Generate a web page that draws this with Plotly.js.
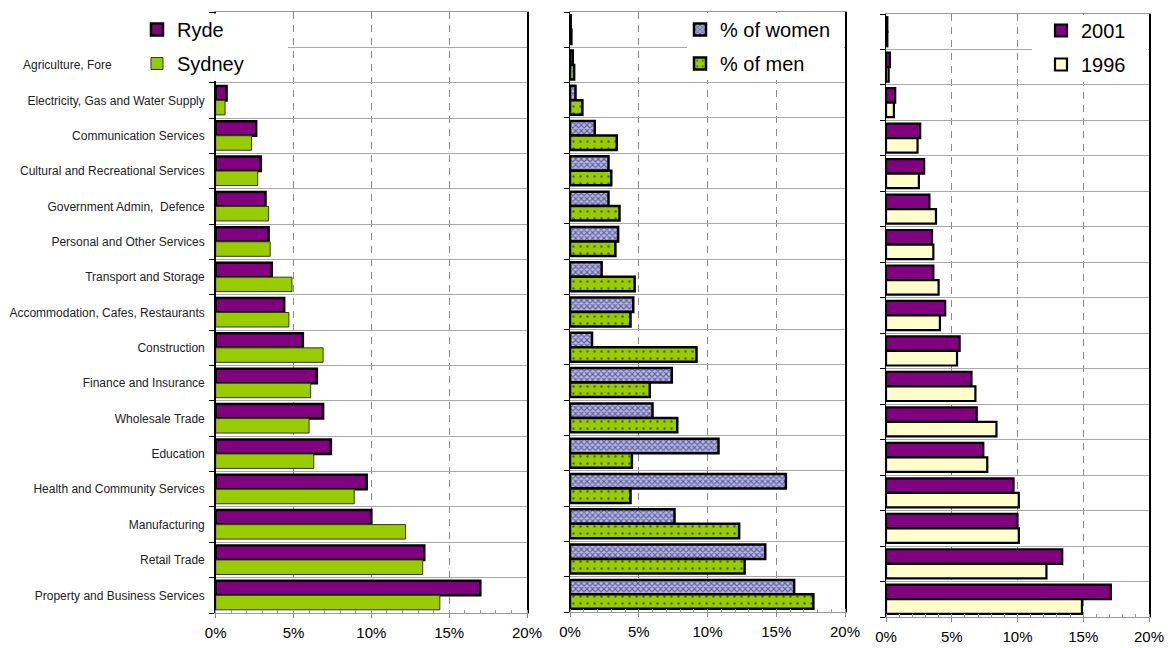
<!DOCTYPE html>
<html>
<head>
<meta charset="utf-8">
<script src="https://cdn.plot.ly/plotly-3.0.1.min.js"></script>
<style>html,body{margin:0;padding:0;background:#fff;}#chart{width:1175px;height:648px;}</style>
</head>
<body>
<div id="chart"></div>
<script>
// Industry categories, top to bottom
const categories = [
  'Mining',
  'Agriculture, Forestry and Fishing',
  'Electricity, Gas and Water Supply',
  'Communication Services',
  'Cultural and Recreational Services',
  'Government Admin,\u00a0 Defence',
  'Personal and Other Services',
  'Transport and Storage',
  'Accommodation, Cafes, Restaurants',
  'Construction',
  'Finance and Insurance',
  'Wholesale Trade',
  'Education',
  'Health and Community Services',
  'Manufacturing',
  'Retail Trade',
  'Property and Business Services'
];
// Tick labels as visible (the top two are hidden / cut by the legend)
const categoryLabels = [
  '',
  '',
  'Electricity, Gas and Water Supply',
  'Communication Services',
  'Cultural and Recreational Services',
  'Government Admin,\u00a0 Defence',
  'Personal and Other Services',
  'Transport and Storage',
  'Accommodation, Cafes, Restaurants',
  'Construction',
  'Finance and Insurance',
  'Wholesale Trade',
  'Education',
  'Health and Community Services',
  'Manufacturing',
  'Retail Trade',
  'Property and Business Services'
];
const cutLabel = 'Agriculture, Fore';
// Panel 1: Ryde vs Sydney (%)
const ryde   = [0.1, 0.3, 0.7, 2.6, 2.9, 3.2, 3.4, 3.6, 4.4, 5.6, 6.5, 6.9, 7.4, 9.7, 10.0, 13.4, 17.0];
const sydney = [0.2, 0.4, 0.6, 2.3, 2.7, 3.4, 3.5, 4.9, 4.7, 6.9, 6.1, 6.0, 6.3, 8.9, 12.2, 13.3, 14.4];
// Panel 2: % of women vs % of men
const women  = [0.05, 0.2, 0.4, 1.8, 2.8, 2.8, 3.5, 2.3, 4.6, 1.6, 7.4, 6.0, 10.8, 15.7, 7.6, 14.2, 16.3];
const men    = [0.1, 0.3, 0.9, 3.4, 3.0, 3.6, 3.3, 4.7, 4.4, 9.2, 5.8, 7.8, 4.5, 4.4, 12.3, 12.7, 17.7];
// Panel 3: 2001 vs 1996
const y2001  = [0.1, 0.3, 0.7, 2.6, 2.9, 3.3, 3.5, 3.6, 4.5, 5.6, 6.5, 6.9, 7.4, 9.7, 10.0, 13.4, 17.1];
const y1996  = [0.1, 0.2, 0.6, 2.4, 2.5, 3.8, 3.6, 4.0, 4.1, 5.4, 6.8, 8.4, 7.7, 10.1, 10.1, 12.2, 14.9];
const xTicks = [0, 5, 10, 15, 20];

const W = 1175, H = 648;
const px = v => v / W;
const py = v => 1 - v / H;

const traces = [
  {type:'bar', orientation:'h', name:'Ryde', x:ryde, y:categories, xaxis:'x', yaxis:'y',
   legend:'legend', legendgroup:'a',
   marker:{color:'#800080', line:{color:'#000', width:2.5}}},
  {type:'bar', orientation:'h', name:'Sydney', x:sydney, y:categories, xaxis:'x', yaxis:'y',
   legend:'legend', legendgroup:'b',
   marker:{color:'#99CC00', line:{color:'#333', width:1}}},
  {type:'bar', orientation:'h', name:'% of women', x:women, y:categories, xaxis:'x2', yaxis:'y2',
   legend:'legend2', legendgroup:'c',
   marker:{color:'#B8B8F4', line:{color:'#000', width:2.5},
     pattern:{shape:'x', fillmode:'overlay', bgcolor:'#B8B8F4', fgcolor:'#10102a', size:4, solidity:0.5}}},
  {type:'bar', orientation:'h', name:'% of men', x:men, y:categories, xaxis:'x2', yaxis:'y2',
   legend:'legend2', legendgroup:'d',
   marker:{color:'#99CC00', line:{color:'#000', width:2.5},
     pattern:{shape:'.', fillmode:'overlay', bgcolor:'#99CC00', fgcolor:'#000', size:7, solidity:0.1}}},
  {type:'bar', orientation:'h', name:'2001', x:y2001, y:categories, xaxis:'x3', yaxis:'y3',
   legend:'legend3', legendgroup:'e',
   marker:{color:'#800080', line:{color:'#000', width:2.2}}},
  {type:'bar', orientation:'h', name:'1996', x:y1996, y:categories, xaxis:'x3', yaxis:'y3',
   legend:'legend3', legendgroup:'f',
   marker:{color:'#FFFFCC', line:{color:'#000', width:2.2}}}
];

const tickFont = {family:'Arial, Liberation Sans, sans-serif', size:15, color:'#000'};
const labelFont = {family:'Arial, Liberation Sans, sans-serif', size:12, color:'#222'};
function xax(domain, anchor, standoff){
  return {
    domain: domain, anchor: anchor, range:[0,20], fixedrange:true,
    tickvals: xTicks, ticktext: xTicks.map(v => v + '%'),
    tickfont: tickFont, ticks:'outside', ticklen:4, tickcolor:'#888',
    ticklabelstandoff: standoff,
    minor:{dtick:1, ticks:'inside', ticklen:3, tickcolor:'#999', showgrid:false},
    showgrid:true, gridcolor:'#8a8a8a', griddash:'7px,6px', gridwidth:1,
    zeroline:false, showline:true, linecolor:'#999', linewidth:1, mirror:true
  };
}
function yax(domain, anchor, showLabels){
  return {
    domain: domain, anchor: anchor, type:'category', autorange:'reversed', fixedrange:true,
    tickmode:'array', tickvals: categories, ticktext: categoryLabels,
    tickson:'boundaries', ticks:'outside', ticklen:5, tickcolor:'#000',
    showticklabels: showLabels,
    tickfont: labelFont,
    ticklabelstandoff: 7,
    showgrid:true, gridcolor:'#a8a8a8', gridwidth:1,
    showline:true, linecolor:'#000', linewidth:1.5, mirror:true, zeroline:false
  };
}

const legFont = {family:'Arial, Liberation Sans, sans-serif', size:20, color:'#000'};
function leg(x, y){
  return {x:x, y:y, xanchor:'left', yanchor:'top', bgcolor:'rgba(0,0,0,0)', borderwidth:0,
    font:legFont, traceorder:'grouped', tracegroupgap:5, itemwidth:30};
}

const cover = (x0, x1, y0, y1) => ({type:'rect', xref:'paper', yref:'paper', layer:'above',
  x0:px(x0), x1:px(x1), y0:py(y1), y1:py(y0), fillcolor:'#fff', line:{width:0}});

const layout = {
  width: W, height: H, margin:{l:0, r:0, t:0, b:0},
  paper_bgcolor:'#fff', plot_bgcolor:'#fff',
  barmode:'group', bargap:0.18, bargroupgap:0,
  xaxis: xax([px(215.7), px(527)], 'y', 2),
  yaxis: yax([py(613), py(12)], 'x', true),
  xaxis2: xax([px(570), px(845)], 'y2', 2),
  yaxis2: yax([py(612), py(12)], 'x2', false),
  xaxis3: xax([px(886), px(1149)], 'y3', 2),
  yaxis3: yax([py(617), py(14)], 'x3', false),
  legend: leg(px(137), py(10)),
  legend2: leg(px(680), py(10)),
  legend3: leg(px(1041), py(11)),
  shapes: [
    cover(115, 288, 13.5, 81),
    cover(687, 844, 13, 80),
    cover(1032, 1148, 15, 82)
  ],
  annotations: [
    {text: cutLabel, xref:'paper', x: px(114), xanchor:'right', yref:'y', y: categories[1],
     yanchor:'middle', showarrow:false, font: labelFont}
  ],
  showlegend:true
};

Plotly.newPlot('chart', traces, layout, {displayModeBar:false, staticPlot:true});
</script>
</body>
</html>
